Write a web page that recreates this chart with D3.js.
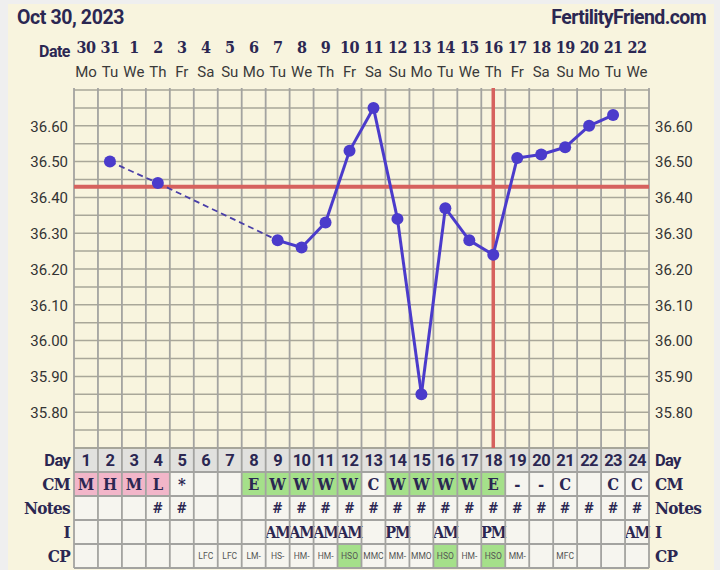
<!DOCTYPE html>
<html><head><meta charset="utf-8">
<script src="https://cdn.jsdelivr.net/npm/d3@7"></script>
<style>html,body{margin:0;padding:0;background:#efefef;}svg{display:block;}</style>
</head><body>
<svg id="chart" width="720" height="570"></svg>
<script>
const days = d3.range(1, 25);
const dates = ["30","31","1","2","3","4","5","6","7","8","9","10","11","12","13","14","15","16","17","18","19","20","21","22"];
const weekdays = ["Mo","Tu","We","Th","Fr","Sa","Su","Mo","Tu","We","Th","Fr","Sa","Su","Mo","Tu","We","Th","Fr","Sa","Su","Mo","Tu","We"];
const temps = [null,36.50,null,36.44,null,null,null,null,36.28,36.26,36.33,36.53,36.65,36.34,35.85,36.37,36.28,36.24,36.51,36.52,36.54,36.60,36.63,null];
const yTicks = [36.60,36.50,36.40,36.30,36.20,36.10,36.00,35.90,35.80];
const coverline = 36.43;
const ovulationDay = 18;
const cmValues = ["M","H","M","L","*","","","E","W","W","W","W","C","W","W","W","W","E","-","-","C","","C","C"];
const cmColors = ["pink","pink","pink","pink","","","","green","green","green","green","green","","green","green","green","green","green","","","","","",""];
const notes = ["","","","#","#","","","","#","#","#","#","#","#","#","#","#","#","#","#","#","#","#","#"];
const intercourse = ["","","","","","","","","AM","AM","AM","AM","","PM","","AM","","PM","","","","","","AM"];
const cpValues = ["","","","","","LFC","LFC","LM-","HS-","HM-","HM-","HSO","MMC","MM-","MMO","HSO","HM-","HSO","MM-","","MFC","","",""];
const cpColors = ["","","","","","","","","","","","green","","","","green","","green","","","","","",""];
const rowLabels = ["Day","CM","Notes","I","CP"];

const svg = d3.select("#chart");
const navy = "#2b2752";
const gridC = "#a9a799";
const sans = "Roboto, 'Noto Sans', sans-serif";
const serif = "'DejaVu Serif Condensed','DejaVu Serif', serif";

svg.append("rect").attr("x",8).attr("y",4).attr("width",706).attr("height",566).attr("fill","#f8f4de");

const x = d3.scaleBand().domain(days).range([74, 649]).padding(0);
const bw = x.bandwidth();
const cx = d => x(d) + bw/2;
const y = d3.scaleLinear().domain([35.70, 36.70]).range([448, 90]);

// header
svg.append("text").attr("x",17).attr("y",24).attr("font-family",sans).attr("font-weight",700).attr("font-size",19.5).attr("fill",navy).attr("letter-spacing",-0.4).text("Oct 30, 2023");
svg.append("text").attr("x",706).attr("y",24).attr("text-anchor","end").attr("font-family",sans).attr("font-weight",700).attr("font-size",19.5).attr("fill",navy).attr("letter-spacing",-0.6).text("FertilityFriend.com");
svg.append("text").attr("x",70).attr("y",57).attr("text-anchor","end").attr("font-family",sans).attr("font-weight",700).attr("font-size",16).attr("fill",navy).attr("letter-spacing",-0.5).text("Date");
svg.append("g").selectAll("text").data(days).join("text")
  .attr("x", d => cx(d)).attr("y",53).attr("text-anchor","middle")
  .attr("font-family",serif).attr("font-weight",700).attr("font-size",16).attr("fill",navy).attr("letter-spacing",-0.6)
  .text((d,i) => dates[i]);
svg.append("g").selectAll("text").data(days).join("text")
  .attr("x", d => cx(d)).attr("y",77).attr("text-anchor","middle")
  .attr("font-family",sans).attr("font-size",15).attr("fill","#3a3a3a")
  .text((d,i) => weekdays[i]);

// table
const rowTop = 448, rowH = 24;
const tbl = svg.append("g");
rowLabels.forEach((lab, r) => {
  const ry = rowTop + r*rowH;
  tbl.append("g").selectAll("rect").data(days).join("rect")
    .attr("x", d => x(d)).attr("y", ry).attr("width", bw).attr("height", rowH)
    .attr("fill", (d,i) => {
      if (r===0) return "#e1e1de";
      if (r===1) return cmColors[i]==="pink" ? "#f2b6c9" : cmColors[i]==="green" ? "#a5e08a" : "#f6f5ef";
      if (r===4) return cpColors[i]==="green" ? "#a5e08a" : "#f6f5ef";
      return "#f6f5ef";
    });
  const isSerif = r>0;
  tbl.append("text").attr("x",70).attr("y",ry+18).attr("text-anchor","end")
    .attr("font-family", isSerif ? serif : sans).attr("font-weight",700).attr("font-size",isSerif?17:16.5)
    .attr("fill",navy).attr("letter-spacing",-0.7).text(lab);
  tbl.append("text").attr("x",655).attr("y",ry+18)
    .attr("font-family", isSerif ? serif : sans).attr("font-weight",700).attr("font-size",isSerif?17:16.5)
    .attr("fill",navy).attr("letter-spacing",-0.7).text(lab);
});
tbl.append("g").selectAll("line").data(d3.range(0,6)).join("line")
  .attr("x1",74).attr("x2",649).attr("y1",r=>rowTop+r*rowH).attr("y2",r=>rowTop+r*rowH)
  .attr("stroke","#a3a3a0").attr("stroke-width",2);
tbl.append("g").selectAll("text").data(days).join("text")
  .attr("x",d=>cx(d)).attr("y",rowTop+18).attr("text-anchor","middle")
  .attr("font-family",sans).attr("font-weight",700).attr("font-size",16.5).attr("fill",navy).attr("letter-spacing",-0.6)
  .text(d=>d);
tbl.append("g").selectAll("text").data(days).join("text")
  .attr("x",d=>cx(d)).attr("y",rowTop+rowH+18).attr("text-anchor","middle")
  .attr("font-family",serif).attr("font-weight",700).attr("font-size",16.5).attr("fill",navy)
  .text((d,i)=>cmValues[i]);
tbl.append("g").selectAll("text").data(days).join("text")
  .attr("x",d=>cx(d)).attr("y",rowTop+2*rowH+17).attr("text-anchor","middle")
  .attr("font-family",serif).attr("font-weight",700).attr("font-size",14).attr("fill",navy)
  .text((d,i)=>notes[i]);
tbl.append("g").selectAll("text").data(days).join("text")
  .attr("x",d=>cx(d)).attr("y",rowTop+3*rowH+18).attr("text-anchor","middle")
  .attr("font-family",serif).attr("font-weight",700).attr("font-size",16).attr("fill",navy).attr("letter-spacing",-1.2)
  .text((d,i)=>intercourse[i]);
tbl.append("g").selectAll("text").data(days).join("text")
  .attr("x",d=>cx(d)).attr("y",rowTop+4*rowH+15).attr("text-anchor","middle")
  .attr("font-family",sans).attr("font-size",8.5).attr("fill","#555")
  .text((d,i)=>cpValues[i]);

// chart grid
const grid = svg.append("g");
const minor = d3.range(0,21).map(i => 35.70 + i*0.05);
grid.selectAll("line.h").data(minor).join("line").attr("class","h")
  .attr("x1",74).attr("x2",649).attr("y1",d=>y(d)).attr("y2",d=>y(d))
  .attr("stroke",gridC).attr("stroke-width",1.5);
const vb = days.map(d=>x(d)).concat([649]);
grid.selectAll("line.v").data(vb).join("line").attr("class","v")
  .attr("x1",d=>d).attr("x2",d=>d).attr("y1",88).attr("y2",568)
  .attr("stroke","#a3a3a0").attr("stroke-width",1.8);

// axes labels
const yl = d3.axisLeft(y).tickValues(yTicks).tickFormat(d3.format(".2f")).tickSize(0).tickPadding(0);
const gl = svg.append("g").attr("transform","translate(68,0)").call(yl);
gl.select(".domain").remove();
gl.selectAll("text").attr("font-family",sans).attr("font-size",15).attr("fill","#333").attr("dy","0.35em");
const yr = d3.axisRight(y).tickValues(yTicks).tickFormat(d3.format(".2f")).tickSize(0).tickPadding(0);
const gr = svg.append("g").attr("transform","translate(655,0)").call(yr);
gr.select(".domain").remove();
gr.selectAll("text").attr("font-family",sans).attr("font-size",15).attr("fill","#333").attr("dy","0.35em");

// coverline & ovulation
svg.append("line").attr("x1",74).attr("x2",649).attr("y1",y(coverline)).attr("y2",y(coverline))
  .attr("stroke","#d6625e").attr("stroke-width",4);
svg.append("line").attr("x1",cx(ovulationDay)).attr("x2",cx(ovulationDay)).attr("y1",88).attr("y2",448)
  .attr("stroke","#d6625e").attr("stroke-width",3.5);

// temperature line
const pts = days.map((d,i)=>({d, t: temps[i]})).filter(p=>p.t!==null);
const lineC = "#4b3bcb";
for (let k=1;k<pts.length;k++){
  const a=pts[k-1], b=pts[k];
  const gap = b.d - a.d > 1;
  svg.append("line").attr("x1",cx(a.d)).attr("y1",y(a.t)).attr("x2",cx(b.d)).attr("y2",y(b.t))
    .attr("stroke", gap ? "#4a3fa8" : lineC).attr("stroke-width", gap ? 1.8 : 3)
    .attr("stroke-dasharray", gap ? "6,4" : null);
}
svg.append("g").selectAll("circle").data(pts).join("circle")
  .attr("cx",p=>cx(p.d)).attr("cy",p=>y(p.t)).attr("r",6).attr("fill",lineC);
</script>
</body></html>
